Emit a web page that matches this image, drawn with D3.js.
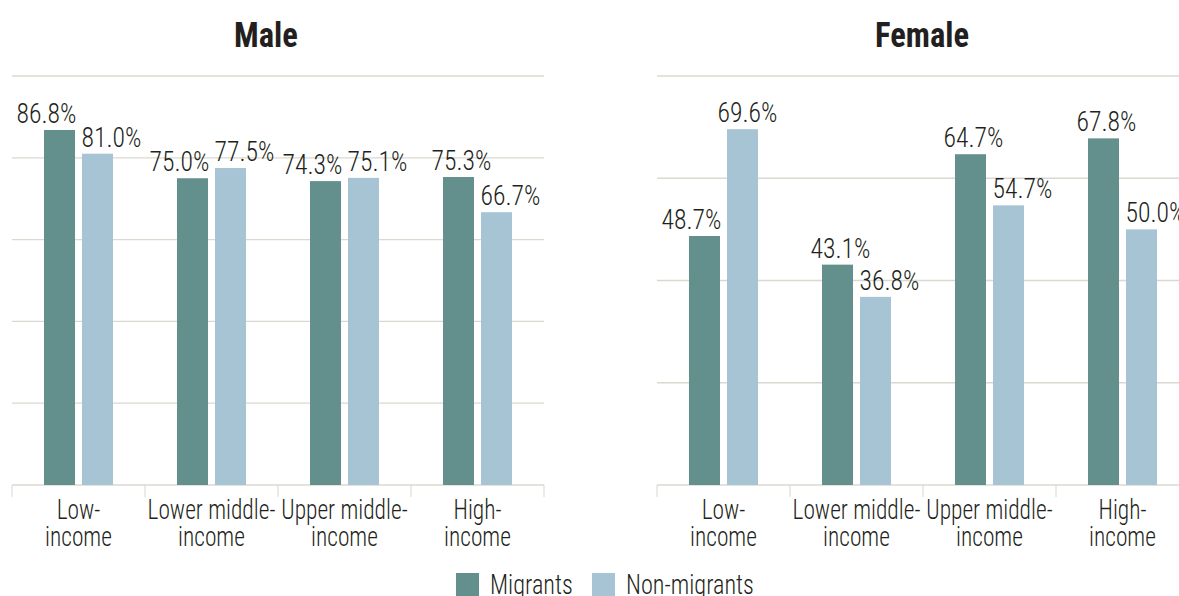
<!DOCTYPE html>
<html>
<head>
<meta charset="utf-8">
<script src="https://cdn.jsdelivr.net/npm/d3@7"></script>
<style>
  body { margin: 0; background: #fff; }
  svg { display: block; }
</style>
</head>
<body>
<div id="chart"></div>
<script>
// data
var incomeGroups = ["Low-income", "Lower middle-income", "Upper middle-income", "High-income"];
var tickLines = [["Low-", "income"], ["Lower middle-", "income"], ["Upper middle-", "income"], ["High-", "income"]];
var seriesNames = ["Migrants", "Non-migrants"];
var maleMigrants = [86.8, 75.0, 74.3, 75.3];
var maleNonMigrants = [81.0, 77.5, 75.1, 66.7];
var femaleMigrants = [48.7, 43.1, 64.7, 67.8];
var femaleNonMigrants = [69.6, 36.8, 54.7, 50.0];
var maleTicks = [0, 20, 40, 60, 80, 100];
var femaleTicks = [0, 20, 40, 60, 80];

var colors = {"Migrants": "#638f8c", "Non-migrants": "#a7c4d4"};
var textColor = "#231f20";
var font = "'Roboto Condensed', 'Liberation Sans Narrow', Roboto, 'DejaVu Sans Condensed', sans-serif";

var W = 1179, H = 596;
var plotTop = 76, plotBottom = 485;

var svg = d3.select("#chart").append("svg")
  .attr("width", W).attr("height", H);

// the reference uses a condensed face; measure ours and squeeze it to fit
function squeeze(sample, size, weight, target) {
  var t = svg.append("text").attr("font-family", font).attr("font-size", size)
    .attr("font-weight", weight).text(sample);
  var w = t.node().getComputedTextLength();
  t.remove();
  return target / w;
}
var kValue = squeeze("86.8%", 27, 300, 60);
var kCat = squeeze("Lower middle-", 27, 300, 128);
var kLegend = squeeze("Non-migrants", 27, 300, 128);
var kTitle = squeeze("Female", 36, "bold", 94);

function label(g, txt, x, y, anchor, size, weight, k) {
  return g.append("text")
    .attr("transform", "translate(" + x + "," + y + ") scale(" + k + ",1)")
    .attr("text-anchor", anchor)
    .attr("font-family", font)
    .attr("font-size", size)
    .attr("font-weight", weight)
    .attr("fill", textColor)
    .text(txt);
}

function panel(title, left, right, maxY, ticks, mig, non, titleX) {
  var g = svg.append("g");
  var x = d3.scaleBand().domain(incomeGroups).range([left, right]).padding(0);
  var xInner = d3.scaleBand().domain(seriesNames).range([0, x.bandwidth()])
    .paddingInner(7 / 38).paddingOuter(0.842);
  var y = d3.scaleLinear().domain([0, maxY]).range([plotBottom, plotTop]);

  // gridlines
  g.selectAll(".grid").data(ticks).enter().append("line")
    .attr("x1", left).attr("x2", right)
    .attr("y1", function(d) { return y(d); }).attr("y2", function(d) { return y(d); })
    .attr("stroke", "#dcd7cf").attr("stroke-width", 1.3);

  // category separators under the baseline
  var edges = incomeGroups.map(function(d) { return x(d); }).concat([right]);
  g.selectAll(".sep").data(edges).enter().append("line")
    .attr("x1", function(d) { return d; }).attr("x2", function(d) { return d; })
    .attr("y1", plotBottom).attr("y2", plotBottom + 12)
    .attr("stroke", "#d6d6d6").attr("stroke-width", 1);

  var rows = incomeGroups.map(function(c, i) {
    return {cat: c, m: mig[i], n: non[i]};
  });

  rows.forEach(function(r, i) {
    var xm = x(r.cat) + xInner("Migrants");
    var xn = x(r.cat) + xInner("Non-migrants");
    var bw = xInner.bandwidth();
    var ym = y(r.m), yn = y(r.n);

    g.append("rect").attr("x", xm).attr("y", ym).attr("width", bw)
      .attr("height", plotBottom - ym).attr("fill", colors["Migrants"]);
    g.append("rect").attr("x", xn).attr("y", yn).attr("width", bw)
      .attr("height", plotBottom - yn).attr("fill", colors["Non-migrants"]);

    // push labels sideways when they run into the neighbour bar/label
    var dm = (ym > yn - 30) ? -13 : 3;
    var dn = (yn > ym - 30) ? 14 : 5;
    label(g, d3.format(".1f")(r.m) + "%", xm + bw / 2 + dm, ym - 7, "middle", 27, 300, kValue);
    label(g, d3.format(".1f")(r.n) + "%", xn + bw / 2 + dn, yn - 7, "middle", 27, 300, kValue);

    // two-line category label as one text element
    var cx = x(r.cat) + x.bandwidth() / 2;
    var t = label(g, "", cx, 519, "middle", 27, 300, kCat);
    t.selectAll("tspan").data(tickLines[i]).enter().append("tspan")
      .attr("x", 0)
      .attr("dy", function(d, j) { return j === 0 ? 0 : 27; })
      .text(function(d) { return d; });
  });

  label(g, title, titleX, 47, "middle", 36, "bold", kTitle);
}

panel("Male", 12, 544, 100, maleTicks, maleMigrants, maleNonMigrants, 266);
panel("Female", 657, 1189, 80, femaleTicks, femaleMigrants, femaleNonMigrants, 922);

// legend
var legend = svg.append("g");
var legendX = [456, 592];
seriesNames.forEach(function(s, i) {
  legend.append("rect").attr("x", legendX[i]).attr("y", 573)
    .attr("width", 23).attr("height", 23).attr("fill", colors[s]);
  label(legend, s, legendX[i] + 34, 594, "start", 27, 300, kLegend);
});
</script>
</body>
</html>
